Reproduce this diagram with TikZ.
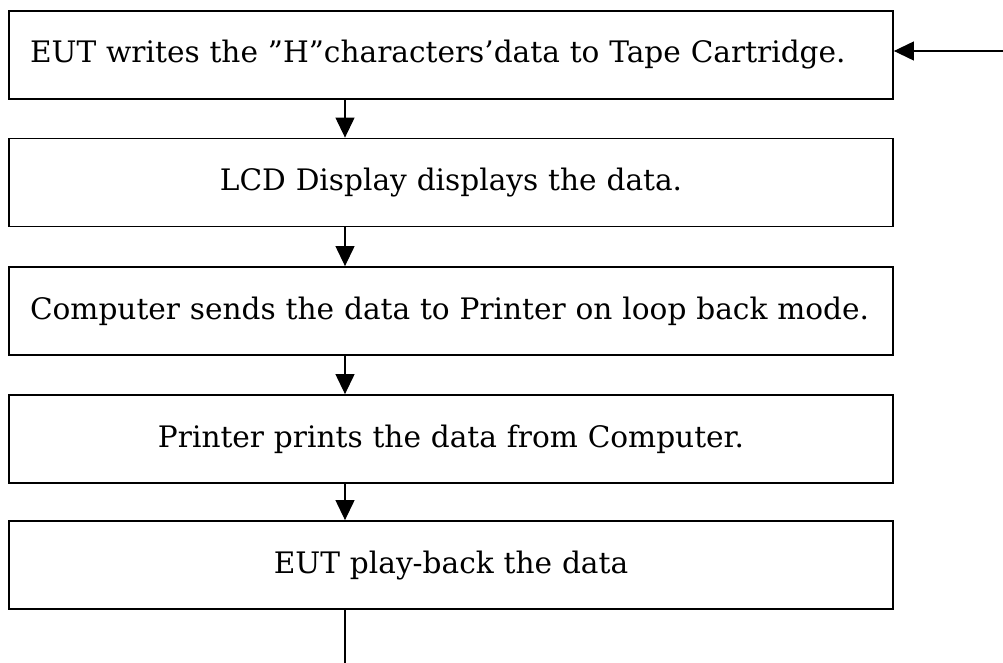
\documentclass[tikz,border=0pt]{standalone}
\usepackage{fontspec}
\setmainfont{DejaVu Serif}
\usepackage{tikz}
\usetikzlibrary{arrows.meta,positioning}
\pgfdeclarelayer{edgelayer}
\pgfdeclarelayer{nodelayer}
\pgfsetlayers{edgelayer,nodelayer,main}
\tikzstyle{stepbox}=[draw=black, line width=1.8pt, minimum width=884pt, minimum height=88pt, inner xsep=21pt, text width=842pt, text height=24pt, text depth=8pt, font=\fontsize{29.6}{32}\selectfont]
\tikzstyle{leftbox}=[stepbox, align=left]
\tikzstyle{midbox}=[stepbox, align=center]
\tikzstyle{flowarrow}=[-{Triangle[length=20pt,width=19pt]}, line width=1.2pt]
\tikzstyle{plain}=[-, line width=1.2pt]

\begin{document}
\begin{tikzpicture}[x=1pt,y=-1pt]
	\useasboundingbox (0,0) rectangle (1003,663);
	\begin{pgfonlayer}{nodelayer}
		\node [style=leftbox] (write) at (451,55) {EUT writes the ”H”characters’data to Tape Cartridge.};
		\node [style=midbox] (lcd) at (451,182.5) {LCD Display displays the data.};
		\node [style=leftbox] (send) at (451,311) {Computer sends the data to Printer on loop back mode.};
		\node [style=midbox] (print) at (451,439) {Printer prints the data from Computer.};
		\node [style=midbox] (play) at (451,565) {EUT play-back the data};

		\coordinate (in) at (1003,51);
		\coordinate (out) at (345,663);
	\end{pgfonlayer}
	\begin{pgfonlayer}{edgelayer}
		\draw [style=flowarrow] (in) to (in -| write.east);
		\draw [style=flowarrow] (write.south -| out) to (lcd.north -| out);
		\draw [style=flowarrow] (lcd.south -| out) to (send.north -| out);
		\draw [style=flowarrow] (send.south -| out) to (print.north -| out);
		\draw [style=flowarrow] (print.south -| out) to (play.north -| out);
		\draw [style=plain] (play.south -| out) to (out);
	\end{pgfonlayer}
\end{tikzpicture}
\end{document}
